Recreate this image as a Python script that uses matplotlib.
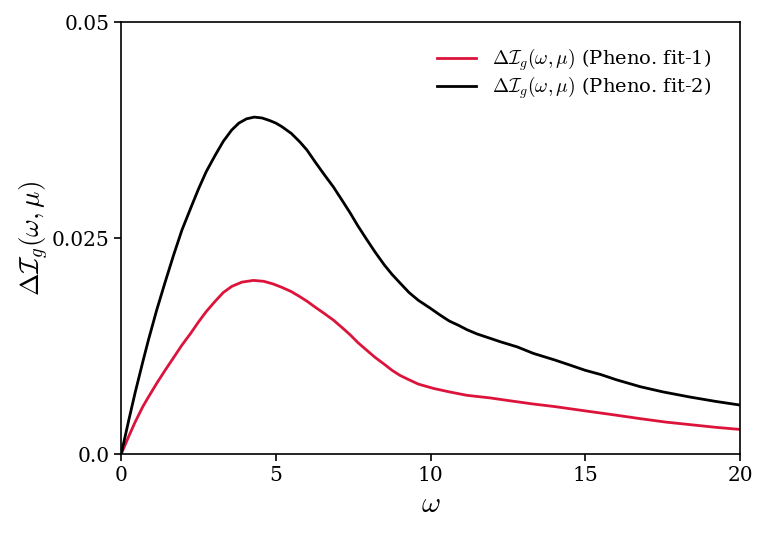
import matplotlib
matplotlib.use('Agg')
import matplotlib.pyplot as plt

plt.rcParams['font.family'] = ['DejaVu Serif']
plt.rcParams['mathtext.fontset'] = 'cm'

# 数据
omega_fit2 = [0.0, 0.25, 0.45, 0.7, 0.88, 1.15, 1.42, 1.7, 1.96, 2.25, 2.5, 2.75, 3.04, 3.3,
              3.57, 3.8, 4.05, 4.3, 4.55, 4.8, 5.0, 5.19, 5.5, 5.78, 6.0, 6.27, 6.55, 6.86,
              7.15, 7.4, 7.65, 7.94, 8.2, 8.5, 8.75, 9.01, 9.3, 9.6, 9.98, 10.3, 10.6, 10.9,
              11.17, 11.5, 11.92, 12.25, 12.8, 13.32, 14.0, 14.5, 14.99, 15.5, 16.0, 16.77,
              17.5, 18.38, 19.2, 20.0]
val_fit2 = [0.0, 0.0040, 0.0071, 0.0107, 0.0132, 0.0167, 0.0199, 0.0231, 0.0259, 0.0285,
            0.0307, 0.0327, 0.0346, 0.0362, 0.0375, 0.0383, 0.0388, 0.0390, 0.0389, 0.0386,
            0.0383, 0.0379, 0.0371, 0.0361, 0.0352, 0.0338, 0.0324, 0.0309, 0.0293, 0.0279,
            0.0264, 0.0248, 0.0234, 0.0219, 0.0208, 0.0198, 0.0187, 0.0178, 0.0169, 0.0161,
            0.0154, 0.0149, 0.0144, 0.0139, 0.0134, 0.0130, 0.0124, 0.01165, 0.0109, 0.0103,
            0.0097, 0.0092, 0.0086, 0.0078, 0.0072, 0.0066, 0.0061, 0.00567]

omega_fit1 = [0.0, 0.25, 0.45, 0.7, 0.88, 1.15, 1.42, 1.7, 1.96, 2.25, 2.5, 2.75, 3.04, 3.3,
              3.57, 3.9, 4.27, 4.6, 4.9, 5.19, 5.5, 5.78, 6.0, 6.27, 6.55, 6.86, 7.15, 7.4,
              7.65, 7.94, 8.2, 8.5, 8.75, 9.01, 9.3, 9.6, 10.09, 10.6, 11.17, 11.92, 12.5,
              13.3, 14.0, 14.99, 15.8, 16.77, 17.6, 18.4, 19.2, 20.0]
val_fit1 = [0.0, 0.0021, 0.0037, 0.0055, 0.0066, 0.0082, 0.0097, 0.0112, 0.0126, 0.0140,
            0.0153, 0.0165, 0.0177, 0.0187, 0.0194, 0.0199, 0.0201, 0.0200, 0.0197, 0.0193,
            0.0188, 0.0182, 0.0177, 0.0170, 0.0163, 0.0155, 0.0146, 0.0138, 0.0129, 0.0120,
            0.0112, 0.0104, 0.0097, 0.0091, 0.0086, 0.0081, 0.0076, 0.0072, 0.0068, 0.0065,
            0.0062, 0.0058, 0.0055, 0.0050, 0.0046, 0.0041, 0.0037, 0.0034, 0.0031, 0.00285]

fig = plt.figure(figsize=(7.67, 5.38), dpi=100)
ax = fig.add_axes([0.158, 0.156, 0.807, 0.803])

ax.plot(omega_fit1, val_fit1, color='#DC143C', lw=2,
        label=r'$\Delta\mathcal{I}_g(\omega,\mu)$ (Pheno. fit-1)')
ax.plot(omega_fit2, val_fit2, color='black', lw=2,
        label=r'$\Delta\mathcal{I}_g(\omega,\mu)$ (Pheno. fit-2)')

ax.set_xlim(0, 20)
ax.set_ylim(0, 0.05)
ax.set_xticks([0, 5, 10, 15, 20])
ax.set_yticks([0, 0.025, 0.05])
ax.set_yticklabels(['0.0', '0.025', '0.05'])
ax.tick_params(labelsize=14.5, width=1.2, length=5)
for s in ax.spines.values():
    s.set_linewidth(1.2)

ax.set_xlabel(r'$\omega$', fontsize=21)
ax.set_ylabel(r'$\Delta\mathcal{I}_g(\omega,\mu)$', fontsize=19.5, labelpad=0.5)

ax.legend(loc='upper right', bbox_to_anchor=(0.981, 0.984), frameon=False,
          fontsize=14, handlelength=2.0, labelspacing=0.1)

fig.savefig('out.png', dpi=100)
